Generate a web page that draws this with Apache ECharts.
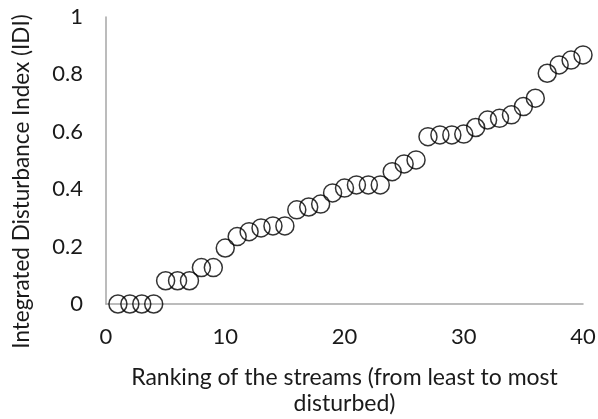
<!DOCTYPE html>
<html>
<head>
<meta charset="utf-8">
<script src="https://cdn.jsdelivr.net/npm/echarts@6/dist/echarts.min.js"></script>
<style>html,body{margin:0;padding:0;background:#fff}#c{width:598px;height:419px}</style>
</head>
<body>
<div id="c"></div>
<script>
const ranks = [1,2,3,4,5,6,7,8,9,10,11,12,13,14,15,16,17,18,19,20,21,22,23,24,25,26,27,28,29,30,31,32,33,34,35,36,37,38,39,40];
const idi = [0,0,0,0,0.081,0.081,0.081,0.127,0.127,0.195,0.235,0.252,0.265,0.272,0.272,0.328,0.338,0.348,0.387,0.404,0.415,0.415,0.415,0.461,0.488,0.502,0.583,0.589,0.589,0.592,0.615,0.641,0.647,0.659,0.688,0.717,0.804,0.833,0.850,0.868];
const xTitle = "Ranking of the streams (from least to most\ndisturbed)";
const yTitle = "Integrated Disturbance Index (IDI)";

const chart = echarts.init(document.getElementById('c'));
const font = 'Lato, "Open Sans", sans-serif';
chart.setOption({
  animation: false,
  grid: {left: 106, right: 15, top: 17, bottom: 115, containLabel: false, outerBoundsMode: 'none'},
  xAxis: {
    type: 'value', min: 0, max: 40, interval: 10,
    name: xTitle, nameLocation: 'middle', nameGap: 61,
    nameTextStyle: {fontFamily: font, fontSize: 23, color: '#1a1a1a', lineHeight: 26},
    axisLine: {lineStyle: {color: '#a6a6a6', width: 1.5}},
    axisTick: {show: false},
    splitLine: {show: false},
    axisLabel: {fontFamily: font, fontSize: 22, color: '#1a1a1a', margin: 22}
  },
  yAxis: {
    type: 'value', min: 0, max: 1, interval: 0.2,
    name: yTitle, nameLocation: 'middle', nameGap: 73,
    nameTextStyle: {fontFamily: font, fontSize: 22.5, color: '#1a1a1a', padding: [0, 42, 0, 0]},
    axisLine: {show: true, lineStyle: {color: '#a6a6a6', width: 1.5}},
    axisTick: {show: false},
    splitLine: {show: false},
    axisLabel: {fontFamily: font, fontSize: 22, color: '#1a1a1a', margin: 23,
      formatter: v => String(Math.round(v * 10) / 10)}
  },
  series: [{
    type: 'scatter',
    data: ranks.map((r, i) => [r, idi[i]]),
    symbol: 'circle',
    symbolSize: 18,
    itemStyle: {color: 'rgba(255,255,255,0)', borderColor: '#000', borderWidth: 1.5}
  }]
});
</script>
</body>
</html>
